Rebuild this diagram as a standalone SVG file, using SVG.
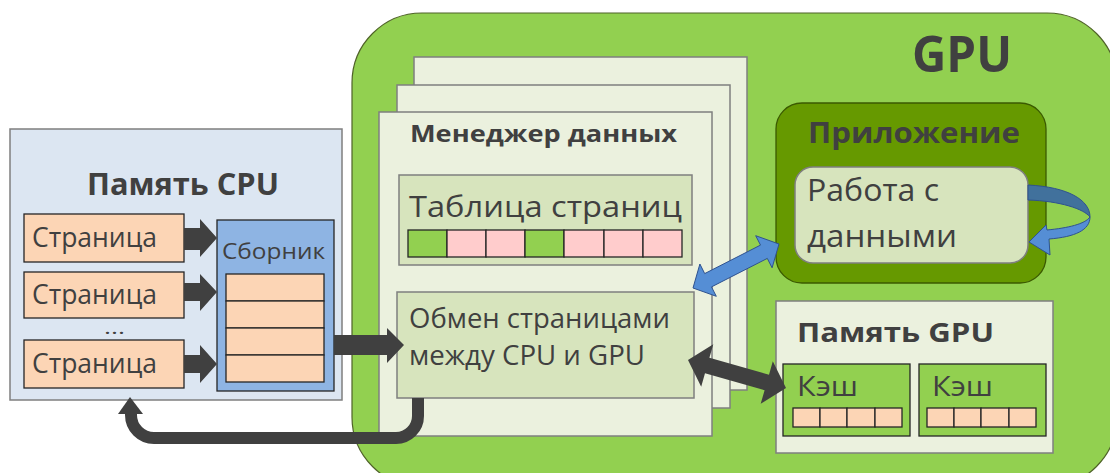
<svg xmlns="http://www.w3.org/2000/svg" width="1110" height="473" viewBox="0 0 1110 473">
<style>
text{font-family:"Open Sans","Noto Sans","Liberation Sans",sans-serif;fill:#404040}
.b{font-weight:bold}
.pg{fill:#EBF1DE;stroke:#7F7F7F;stroke-width:1.5}
.lg{fill:#D7E4BD;stroke:#7F7F7F;stroke-width:1.5}
.pe{fill:#FCD5B5;stroke:#262626;stroke-width:1.3}
.gr{fill:#92D050;stroke:#262626;stroke-width:1.3}
.pk{fill:#FFCCCC;stroke:#262626;stroke-width:1.3}
.blk{fill:#404040}
.blu{fill:#558ED5;stroke:#2F528F;stroke-width:1}
</style>
<rect width="1110" height="473" fill="#FFFFFF"/>
<g id="gpu">
<rect x="352" y="13" width="765" height="474" rx="70" ry="70" fill="#92D050" stroke="#4F6228" stroke-width="1.2"/>
<text x="912" y="72" class="b" font-size="50" textLength="100" lengthAdjust="spacingAndGlyphs">GPU</text>
</g>
<g id="data-manager">
<rect x="414" y="57" width="333" height="333" class="pg"/>
<rect x="397" y="85" width="333" height="323" class="pg"/>
<rect x="379" y="112" width="333" height="324" class="pg"/>
<text x="410" y="142" class="b" font-size="23" textLength="267" lengthAdjust="spacingAndGlyphs">Менеджер данных</text>
</g>
<g id="page-table">
<rect x="399" y="175" width="293" height="90" class="lg"/>
<text x="409" y="217" font-size="30" textLength="273" lengthAdjust="spacingAndGlyphs">Таблица страниц</text>
<rect x="408" y="230" width="39" height="27" class="gr"/>
<rect x="447" y="230" width="39" height="27" class="pk"/>
<rect x="486" y="230" width="39" height="27" class="pk"/>
<rect x="525" y="230" width="39" height="27" class="gr"/>
<rect x="564" y="230" width="40" height="27" class="pk"/>
<rect x="604" y="230" width="39" height="27" class="pk"/>
<rect x="643" y="230" width="39" height="27" class="pk"/>
</g>
<g id="page-exchange">
<rect x="397" y="292" width="297" height="106" class="lg"/>
<text x="409" y="328" font-size="27" textLength="261" lengthAdjust="spacingAndGlyphs">Обмен страницами</text>
<text x="409" y="365" font-size="27" textLength="236" lengthAdjust="spacingAndGlyphs">между CPU и GPU</text>
</g>
<g id="cpu-memory">
<rect x="10" y="129" width="332" height="271" fill="#DCE6F2" stroke="#7F7F7F" stroke-width="1.5"/>
<text x="87" y="195" class="b" font-size="30" textLength="192" lengthAdjust="spacingAndGlyphs">Память CPU</text>
<rect x="24" y="214" width="160" height="48" class="pe"/>
<text x="32" y="247" font-size="27" textLength="125" lengthAdjust="spacingAndGlyphs">Страница</text>
<rect x="24" y="272" width="160" height="46" class="pe"/>
<text x="32" y="304" font-size="27" textLength="125" lengthAdjust="spacingAndGlyphs">Страница</text>
<text x="104" y="334" font-size="18" textLength="21" lengthAdjust="spacingAndGlyphs">...</text>
<rect x="24" y="340" width="160" height="48" class="pe"/>
<text x="32" y="373" font-size="27" textLength="125" lengthAdjust="spacingAndGlyphs">Страница</text>
</g>
<g id="collector">
<rect x="217" y="220" width="117" height="171" fill="#8EB4E3" stroke="#262626" stroke-width="1.3"/>
<text x="222" y="259" font-size="22" textLength="103" lengthAdjust="spacingAndGlyphs">Сборник</text>
<rect x="226" y="274" width="98" height="27" class="pe"/>
<rect x="226" y="301" width="98" height="27" class="pe"/>
<rect x="226" y="328" width="98" height="27" class="pe"/>
<rect x="226" y="355" width="98" height="27" class="pe"/>
</g>
<g id="application">
<rect x="776" y="103" width="270" height="180" rx="26" ry="26" fill="#669900" stroke="#3B5A00" stroke-width="1.3"/>
<text x="808" y="143" class="b" font-size="28" textLength="212" lengthAdjust="spacingAndGlyphs">Приложение</text>
<rect x="795" y="167" width="233" height="96" rx="18" ry="18" class="lg" stroke="#3B5A00"/>
<text x="807" y="201" font-size="31" textLength="132" lengthAdjust="spacingAndGlyphs">Работа с</text>
<text x="807" y="247" font-size="31" textLength="150" lengthAdjust="spacingAndGlyphs">данными</text>
</g>
<g id="gpu-memory">
<rect x="776" y="301" width="277" height="152" class="pg"/>
<text x="797" y="342" class="b" font-size="26" textLength="197" lengthAdjust="spacingAndGlyphs">Память GPU</text>
<rect x="783" y="364" width="127" height="72" class="gr"/>
<text x="797" y="396" font-size="28" textLength="61" lengthAdjust="spacingAndGlyphs">Кэш</text>
<rect x="793" y="408" width="27" height="19" class="pe"/>
<rect x="820" y="408" width="27" height="19" class="pe"/>
<rect x="847" y="408" width="28" height="19" class="pe"/>
<rect x="875" y="408" width="27" height="19" class="pe"/>
<rect x="919" y="364" width="127" height="72" class="gr"/>
<text x="932" y="396" font-size="28" textLength="61" lengthAdjust="spacingAndGlyphs">Кэш</text>
<rect x="927" y="408" width="27" height="19" class="pe"/>
<rect x="954" y="408" width="27" height="19" class="pe"/>
<rect x="981" y="408" width="28" height="19" class="pe"/>
<rect x="1009" y="408" width="27" height="19" class="pe"/>
</g>
<g id="connectors">
<polygon class="blk" points="184,228 200,228 200,219 217,238 200,257 200,250 184,250"/>
<polygon class="blk" points="184,283 200,283 200,274 217,292 200,311 200,301 184,301"/>
<polygon class="blk" points="184,355 200,355 200,345 217,364 200,383 200,373 184,373"/>
<polygon class="blk" points="334,335 387,335 387,328 404,345 387,363 387,355 334,355"/>
<path d="M418,398 V416 A22,22 0 0 1 396,438 H154 A23,23 0 0 1 131,415 V412" fill="none" stroke="#404040" stroke-width="12"/>
<polygon class="blk" points="118,414 130,397 143,414"/>
<polygon class="blk" points="688,360 701.2,386.7 705,373.2 764.6,390.2 760.7,403.7 786,388 772.8,361.3 769,374.8 709.4,357.8 713.3,344.3"/>
<polygon class="blu" points="693,288 716.3,296.3 711.5,286.9 767.3,258.4 772.1,267.8 779,244 755.7,235.7 760.5,245.1 704.7,273.6 699.9,264"/>
<path d="M1028,185 C1068,187 1090,200 1090,217 C1084,209 1060,201 1028,200 Z" fill="#41719C" stroke="#2F528F" stroke-width="1"/>
<path d="M1090,217 C1090,230 1075,237 1049,239 L1050,255 L1029,242 L1046,225 L1047,230 C1068,228 1085,224 1090,217 Z" class="blu"/>
</g>
</svg>
